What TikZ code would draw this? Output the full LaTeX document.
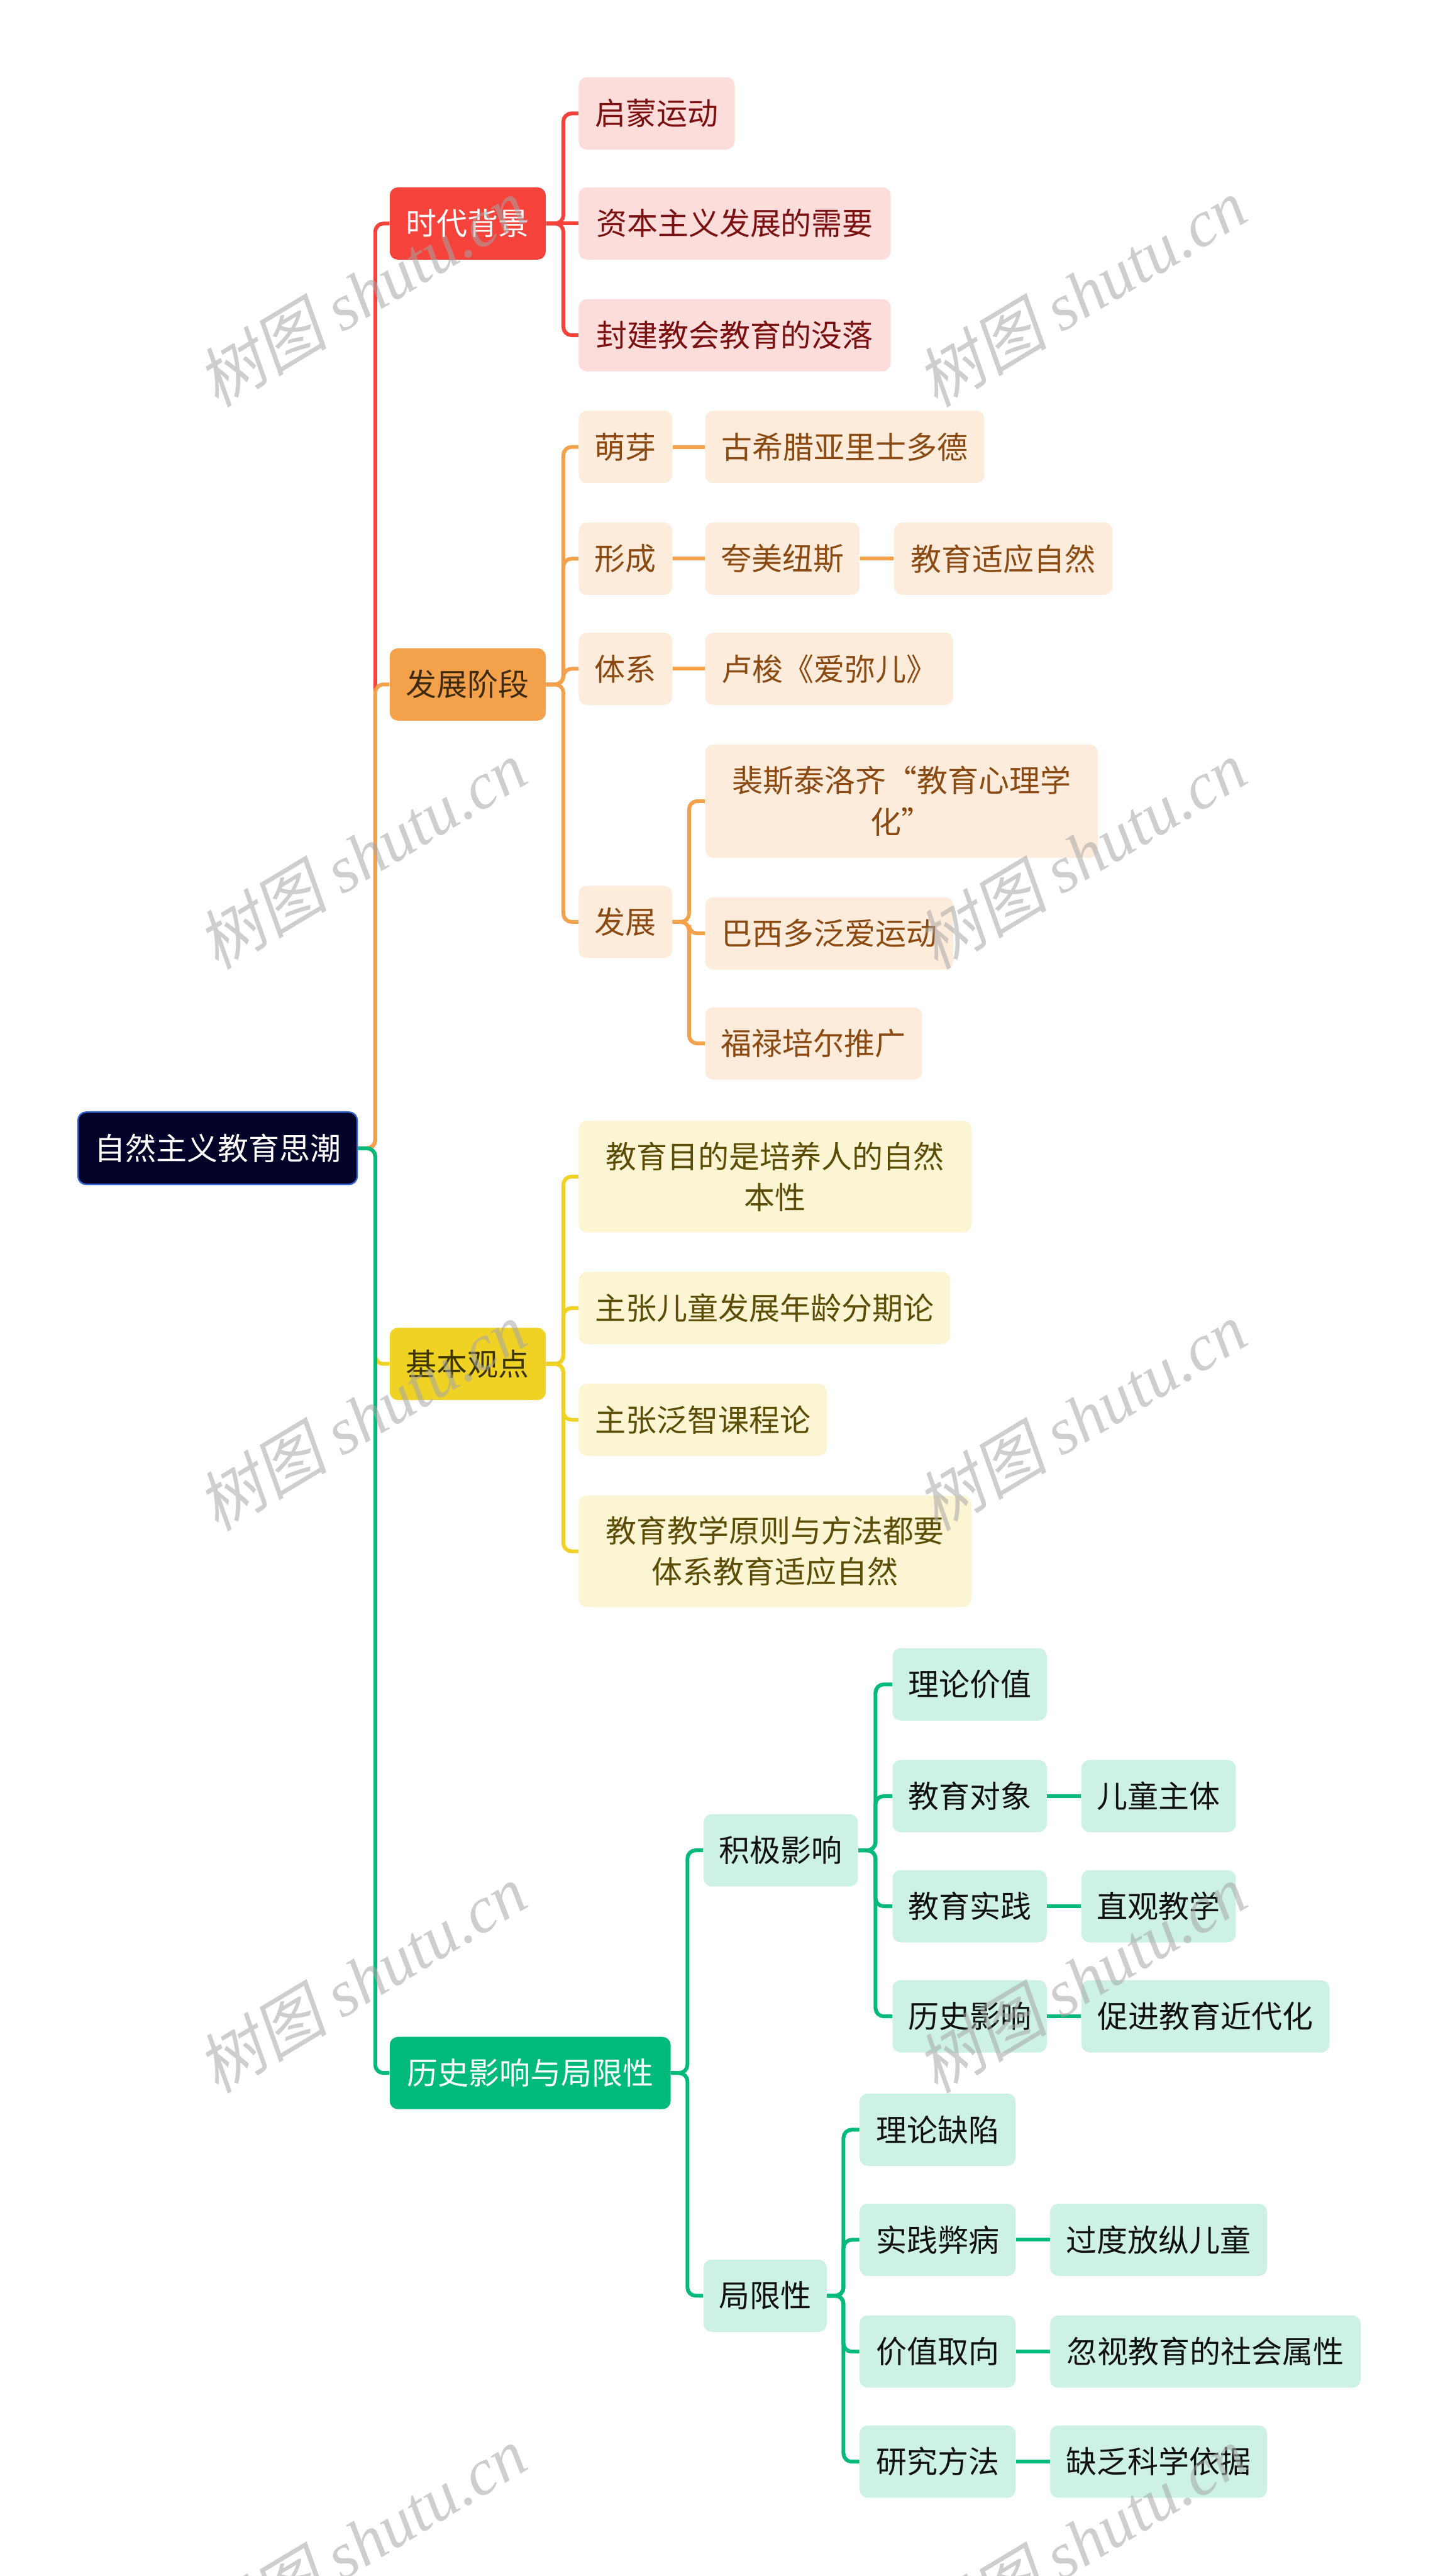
\documentclass[tikz,border=0pt]{standalone}
\usepackage{fontspec}
\setmainfont{Noto Sans CJK SC}
\newfontfamily\wmlat{Liberation Serif}
\newfontfamily\wmcjk{Noto Sans CJK SC}[FakeSlant=0.2]
\usetikzlibrary{calc}
\pgfdeclarelayer{bg}
\pgfdeclarelayer{fg}
\pgfsetlayers{bg,main,fg}
\definecolor{rootfill}{HTML}{03032A}
\definecolor{rootdraw}{HTML}{3366D6}
\definecolor{cred}{HTML}{F5433B}
\definecolor{corange}{HTML}{F4A14B}
\definecolor{cyellow}{HTML}{F0D225}
\definecolor{cgreen}{HTML}{00BA7C}
\definecolor{rfill}{HTML}{FDDCDC}
\definecolor{rtext}{HTML}{7B1010}
\definecolor{ofill}{HTML}{FDEBDC}
\definecolor{otext}{HTML}{8A4A12}
\definecolor{otexthead}{HTML}{3E2A10}
\definecolor{yfill}{HTML}{FCF5D4}
\definecolor{ytext}{HTML}{5B4D06}
\definecolor{ytexthead}{HTML}{3B3300}
\definecolor{gfill}{HTML}{CDF2E3}
\definecolor{gtext}{HTML}{111111}
\definecolor{wmgray}{HTML}{A6A6A6}
\begin{document}
\begin{tikzpicture}[x=1pt,y=-1pt,
  box/.style={anchor=west, rounded corners=5pt, minimum height=44pt, inner sep=0pt,
    font=\fontsize{18.75}{25}\selectfont, align=center},
  rootbox/.style={box, fill=rootfill, draw=rootdraw, line width=0.9pt, text=white},
  redhead/.style={box, fill=cred, text=white},
  orangehead/.style={box, fill=corange, text=otexthead},
  yellowhead/.style={box, fill=cyellow, text=ytexthead},
  greenhead/.style={box, fill=cgreen, text=white},
  rc/.style={box, fill=rfill, text=rtext},
  oc/.style={box, fill=ofill, text=otext},
  yc/.style={box, fill=yfill, text=ytext},
  gc/.style={box, fill=gfill, text=gtext},
  conn/.style={line width=2.3pt, rounded corners=5pt},
  rline/.style={conn, draw=cred},
  oline/.style={conn, draw=corange},
  yline/.style={conn, draw=cyellow},
  gline/.style={conn, draw=cgreen},
  wm/.style={text=wmgray, opacity=0.55, rotate=31, inner sep=0pt,
    font=\fontsize{40}{40}\selectfont}
]
\useasboundingbox (0,0) rectangle (875,1567.6);

% root
\node[rootbox, minimum width=170pt] (root) at (47,698.75) {自然主义教育思潮};

% level 1
\node[redhead, minimum width=95pt] (L1) at (237,136) {时代背景};
\node[orangehead, minimum width=95pt] (L2) at (237,416.5) {发展阶段};
\node[yellowhead, minimum width=95pt] (L3) at (237,830) {基本观点};
\node[greenhead, minimum width=171pt] (L4) at (237,1261.5) {历史影响与局限性};

% red children
\node[rc, minimum width=95pt] (r1) at (352,69) {启蒙运动};
\node[rc, minimum width=190pt] (r2) at (352,136) {资本主义发展的需要};
\node[rc, minimum width=190pt] (r3) at (352,204) {封建教会教育的没落};

% orange children
\node[oc, minimum width=57pt] (o1) at (352,272) {萌芽};
\node[oc, minimum width=170pt] (o1a) at (429,272) {古希腊亚里士多德};
\node[oc, minimum width=57pt] (o2) at (352,340) {形成};
\node[oc, minimum width=94pt] (o2a) at (429,340) {夸美纽斯};
\node[oc, minimum width=133pt] (o2b) at (544,340) {教育适应自然};
\node[oc, minimum width=57pt] (o3) at (352,407) {体系};
\node[oc, minimum width=151pt] (o3a) at (429,407) {卢梭《爱弥儿》};
\node[oc, minimum width=57pt] (o4) at (352,561) {发展};
\node[oc, minimum width=239pt, minimum height=69pt] (o4a) at (429,487.5) {裴斯泰洛齐“教育心理学\\化”};
\node[oc, minimum width=151pt] (o4b) at (429,568) {巴西多泛爱运动};
\node[oc, minimum width=132pt] (o4c) at (429,635) {福禄培尔推广};

% yellow children
\node[yc, minimum width=239pt, minimum height=68pt] (y1) at (352,716) {教育目的是培养人的自然\\本性};
\node[yc, minimum width=226pt] (y2) at (352,796) {主张儿童发展年龄分期论};
\node[yc, minimum width=151pt] (y3) at (352,864) {主张泛智课程论};
\node[yc, minimum width=239pt, minimum height=68pt] (y4) at (352,944) {教育教学原则与方法都要\\体系教育适应自然};

% green children
\node[gc, minimum width=94pt] (g1) at (428,1126) {积极影响};
\node[gc, minimum width=94pt] (g1a) at (543,1025) {理论价值};
\node[gc, minimum width=94pt] (g1b) at (543,1093) {教育对象};
\node[gc, minimum width=94pt] (g1b1) at (658,1093) {儿童主体};
\node[gc, minimum width=94pt] (g1c) at (543,1160) {教育实践};
\node[gc, minimum width=94pt] (g1c1) at (658,1160) {直观教学};
\node[gc, minimum width=94pt] (g1d) at (543,1227) {历史影响};
\node[gc, minimum width=151pt] (g1d1) at (658,1227) {促进教育近代化};
\node[gc, minimum width=75pt] (g2) at (428,1397) {局限性};
\node[gc, minimum width=95pt] (g2a) at (523,1296) {理论缺陷};
\node[gc, minimum width=95pt] (g2b) at (523,1363) {实践弊病};
\node[gc, minimum width=132pt] (g2b1) at (639,1363) {过度放纵儿童};
\node[gc, minimum width=95pt] (g2c) at (523,1431) {价值取向};
\node[gc, minimum width=189pt] (g2c1) at (639,1431) {忽视教育的社会属性};
\node[gc, minimum width=95pt] (g2d) at (523,1498) {研究方法};
\node[gc, minimum width=132pt] (g2d1) at (639,1498) {缺乏科学依据};

\begin{pgfonlayer}{bg}
% red
\draw[rline] (root.east) -- ++(10.5,0) |- (L1.west);
\draw[rline] (L1.east) -- ++(10.5,0) |- (r1.west);
\draw[rline] (L1.east) -- (r2.west);
\draw[rline] (L1.east) -- ++(10.5,0) |- (r3.west);
% orange
\draw[oline] (root.east) -- ++(10.5,0) |- (L2.west);
\draw[oline] (L2.east) -- ++(10.5,0) |- (o1.west);
\draw[oline] (L2.east) -- ++(10.5,0) |- (o2.west);
\draw[oline] (L2.east) -- ++(10.5,0) |- (o3.west);
\draw[oline] (L2.east) -- ++(10.5,0) |- (o4.west);
\draw[oline] (o1.east) -- (o1a.west);
\draw[oline] (o2.east) -- (o2a.west);
\draw[oline] (o2a.east) -- (o2b.west);
\draw[oline] (o3.east) -- (o3a.west);
\draw[oline] (o4.east) -- ++(10,0) |- (o4a.west);
\draw[oline] (o4.east) -- ++(10,0) |- (o4b.west);
\draw[oline] (o4.east) -- ++(10,0) |- (o4c.west);
% yellow
\draw[yline] (root.east) -- ++(10.5,0) |- (L3.west);
\draw[yline] (L3.east) -- ++(10.5,0) |- (y1.west);
\draw[yline] (L3.east) -- ++(10.5,0) |- (y2.west);
\draw[yline] (L3.east) -- ++(10.5,0) |- (y3.west);
\draw[yline] (L3.east) -- ++(10.5,0) |- (y4.west);
% green
\draw[gline] (root.east) -- ++(10.5,0) |- (L4.west);
\draw[gline] (L4.east) -- ++(10,0) |- (g1.west);
\draw[gline] (L4.east) -- ++(10,0) |- (g2.west);
\draw[gline] (g1.east) -- ++(10.5,0) |- (g1a.west);
\draw[gline] (g1.east) -- ++(10.5,0) |- (g1b.west);
\draw[gline] (g1.east) -- ++(10.5,0) |- (g1c.west);
\draw[gline] (g1.east) -- ++(10.5,0) |- (g1d.west);
\draw[gline] (g1b.east) -- (g1b1.west);
\draw[gline] (g1c.east) -- (g1c1.west);
\draw[gline] (g1d.east) -- (g1d1.west);
\draw[gline] (g2.east) -- ++(10,0) |- (g2a.west);
\draw[gline] (g2.east) -- ++(10,0) |- (g2b.west);
\draw[gline] (g2.east) -- ++(10,0) |- (g2c.west);
\draw[gline] (g2.east) -- ++(10,0) |- (g2d.west);
\draw[gline] (g2b.east) -- (g2b1.west);
\draw[gline] (g2c.east) -- (g2c1.west);
\draw[gline] (g2d.east) -- (g2d1.west);
\end{pgfonlayer}

\begin{pgfonlayer}{fg}
\foreach \wy [count=\i] in {178,520,862,1204,1546}{
  \node[wm] (wmA\i) at (220,\wy) {{\wmcjk 树图} {\wmlat\itshape shutu.cn}};
  \node[wm] (wmB\i) at (658,\wy) {{\wmcjk 树图} {\wmlat\itshape shutu.cn}};
}
\end{pgfonlayer}
\end{tikzpicture}
\end{document}
